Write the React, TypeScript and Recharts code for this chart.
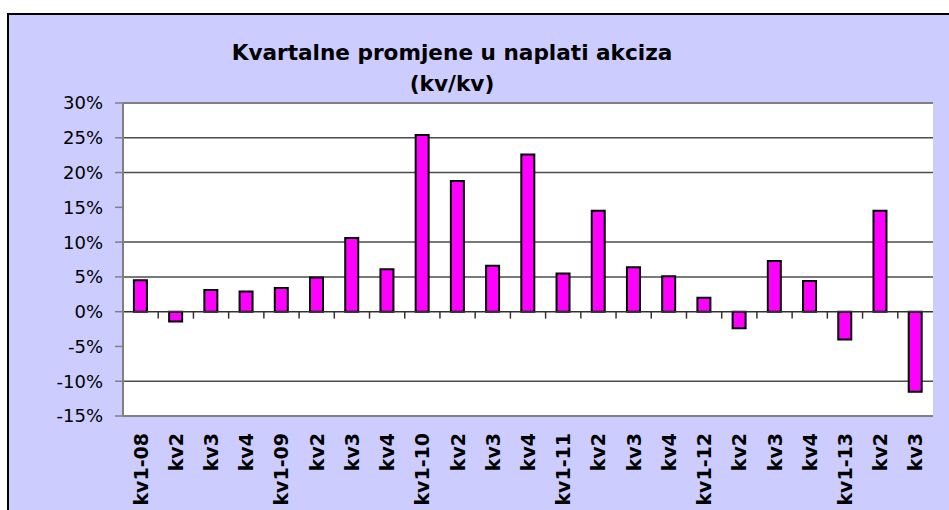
import { Bar, BarChart, CartesianGrid, ReferenceLine, XAxis, YAxis } from 'recharts';

import type { JSX } from 'react';

const quarters = [
  'kv1-08', 'kv2', 'kv3', 'kv4',
  'kv1-09', 'kv2', 'kv3', 'kv4',
  'kv1-10', 'kv2', 'kv3', 'kv4',
  'kv1-11', 'kv2', 'kv3', 'kv4',
  'kv1-12', 'kv2', 'kv3', 'kv4',
  'kv1-13', 'kv2', 'kv3',
];

const changes = [
  4.5, -1.4, 3.1, 2.9,
  3.4, 4.9, 10.6, 6.1,
  25.4, 18.8, 6.6, 22.6,
  5.5, 14.5, 6.4, 5.1,
  2.0, -2.4, 7.3, 4.4,
  -4.0, 14.5, -11.5,
];

const yTicks = [-15, -10, -5, 0, 5, 10, 15, 20, 25, 30];
const gridValues = [25, 20, 10, 5, -10];

const FONT = '"DejaVu Sans", Verdana, sans-serif';

// categories repeat (kv2, kv3...), so key rows by index
const data = quarters.map((q, i) => ({ key: `${i}`, label: q, value: changes[i] }));

function QuarterTick({ x, y, payload }: any): JSX.Element {
  const label = data[Number(payload.value)]?.label ?? '';
  return (
    <text
      x={x}
      y={y}
      transform={`rotate(-90, ${x}, ${y})`}
      textAnchor="end"
      dominantBaseline="central"
      fontFamily={FONT}
      fontWeight="bold"
      fontSize={19}
      fill="#000"
    >
      {label}
    </text>
  );
}

export default function App(): JSX.Element {
  return (
    <div style={{ position: 'relative', width: 949, height: 510, overflow: 'hidden', background: '#fff' }}>
      <style>{'body{margin:0;overflow:hidden}'}</style>
      <div
        style={{
          position: 'absolute',
          left: 7,
          top: 13,
          width: 960,
          height: 520,
          background: '#CCCCFF',
          borderLeft: '2px solid #000',
          borderTop: '2px solid #000',
        }}
      />
      <div
        style={{
          position: 'absolute',
          left: 152,
          top: 37,
          width: 600,
          textAlign: 'center',
          fontFamily: FONT,
          fontWeight: 'bold',
          fontSize: 21.6,
          lineHeight: '31px',
          color: '#000',
        }}
      >
        Kvartalne promjene u naplati akciza
        <br />
        (kv/kv)
      </div>
      <div style={{ position: 'absolute', left: 0, top: 0 }}>
        <BarChart
          width={949}
          height={510}
          data={data}
          margin={{ top: 103, right: 16, left: 0, bottom: 0 }}
          barCategoryGap="31%"
        >
          <CartesianGrid
            fill="#fff"
            vertical={false}
            horizontalValues={gridValues}
            stroke="#4d4d4d"
            strokeWidth={1.5}
          />
          <XAxis
            dataKey="key"
            interval={0}
            height={94}
            axisLine={false}
            tickLine={false}
            tickSize={0}
            tickMargin={17}
            tick={<QuarterTick />}
          />
          <YAxis
            domain={[-15, 30]}
            ticks={yTicks}
            interval={0}
            width={123}
            axisLine={{ stroke: '#808080', strokeWidth: 2 }}
            tickLine={{ stroke: '#808080', strokeWidth: 1.5 }}
            tickSize={8}
            tickMargin={12}
            tickFormatter={(v: number) => `${v}%`}
            tick={{ fill: '#000', fontSize: 18, fontFamily: FONT }}
          />
          <ReferenceLine y={30} stroke="#808080" strokeWidth={2} />
          <ReferenceLine y={-15} stroke="#808080" strokeWidth={2} />
          <ReferenceLine x={data[data.length - 1].key} position="end" stroke="#8a8a8a" strokeWidth={3} />
          <Bar
            dataKey="value"
            fill="#FF00FF"
            stroke="#000"
            strokeWidth={2}
            isAnimationActive={false}
          />
          <ReferenceLine y={0} stroke="#333" strokeWidth={1.5} />
          {data.slice(1).map((d) => (
            <ReferenceLine
              key={`t${d.key}`}
              segment={[{ x: d.key, y: 0 }, { x: d.key, y: -1 }]}
              position="start"
              stroke="#333"
              strokeWidth={1.5}
            />
          ))}
          <ReferenceLine
            segment={[{ x: data[data.length - 1].key, y: 0 }, { x: data[data.length - 1].key, y: -1 }]}
            position="end"
            stroke="#333"
            strokeWidth={1.5}
          />
        </BarChart>
      </div>
    </div>
  );
}
